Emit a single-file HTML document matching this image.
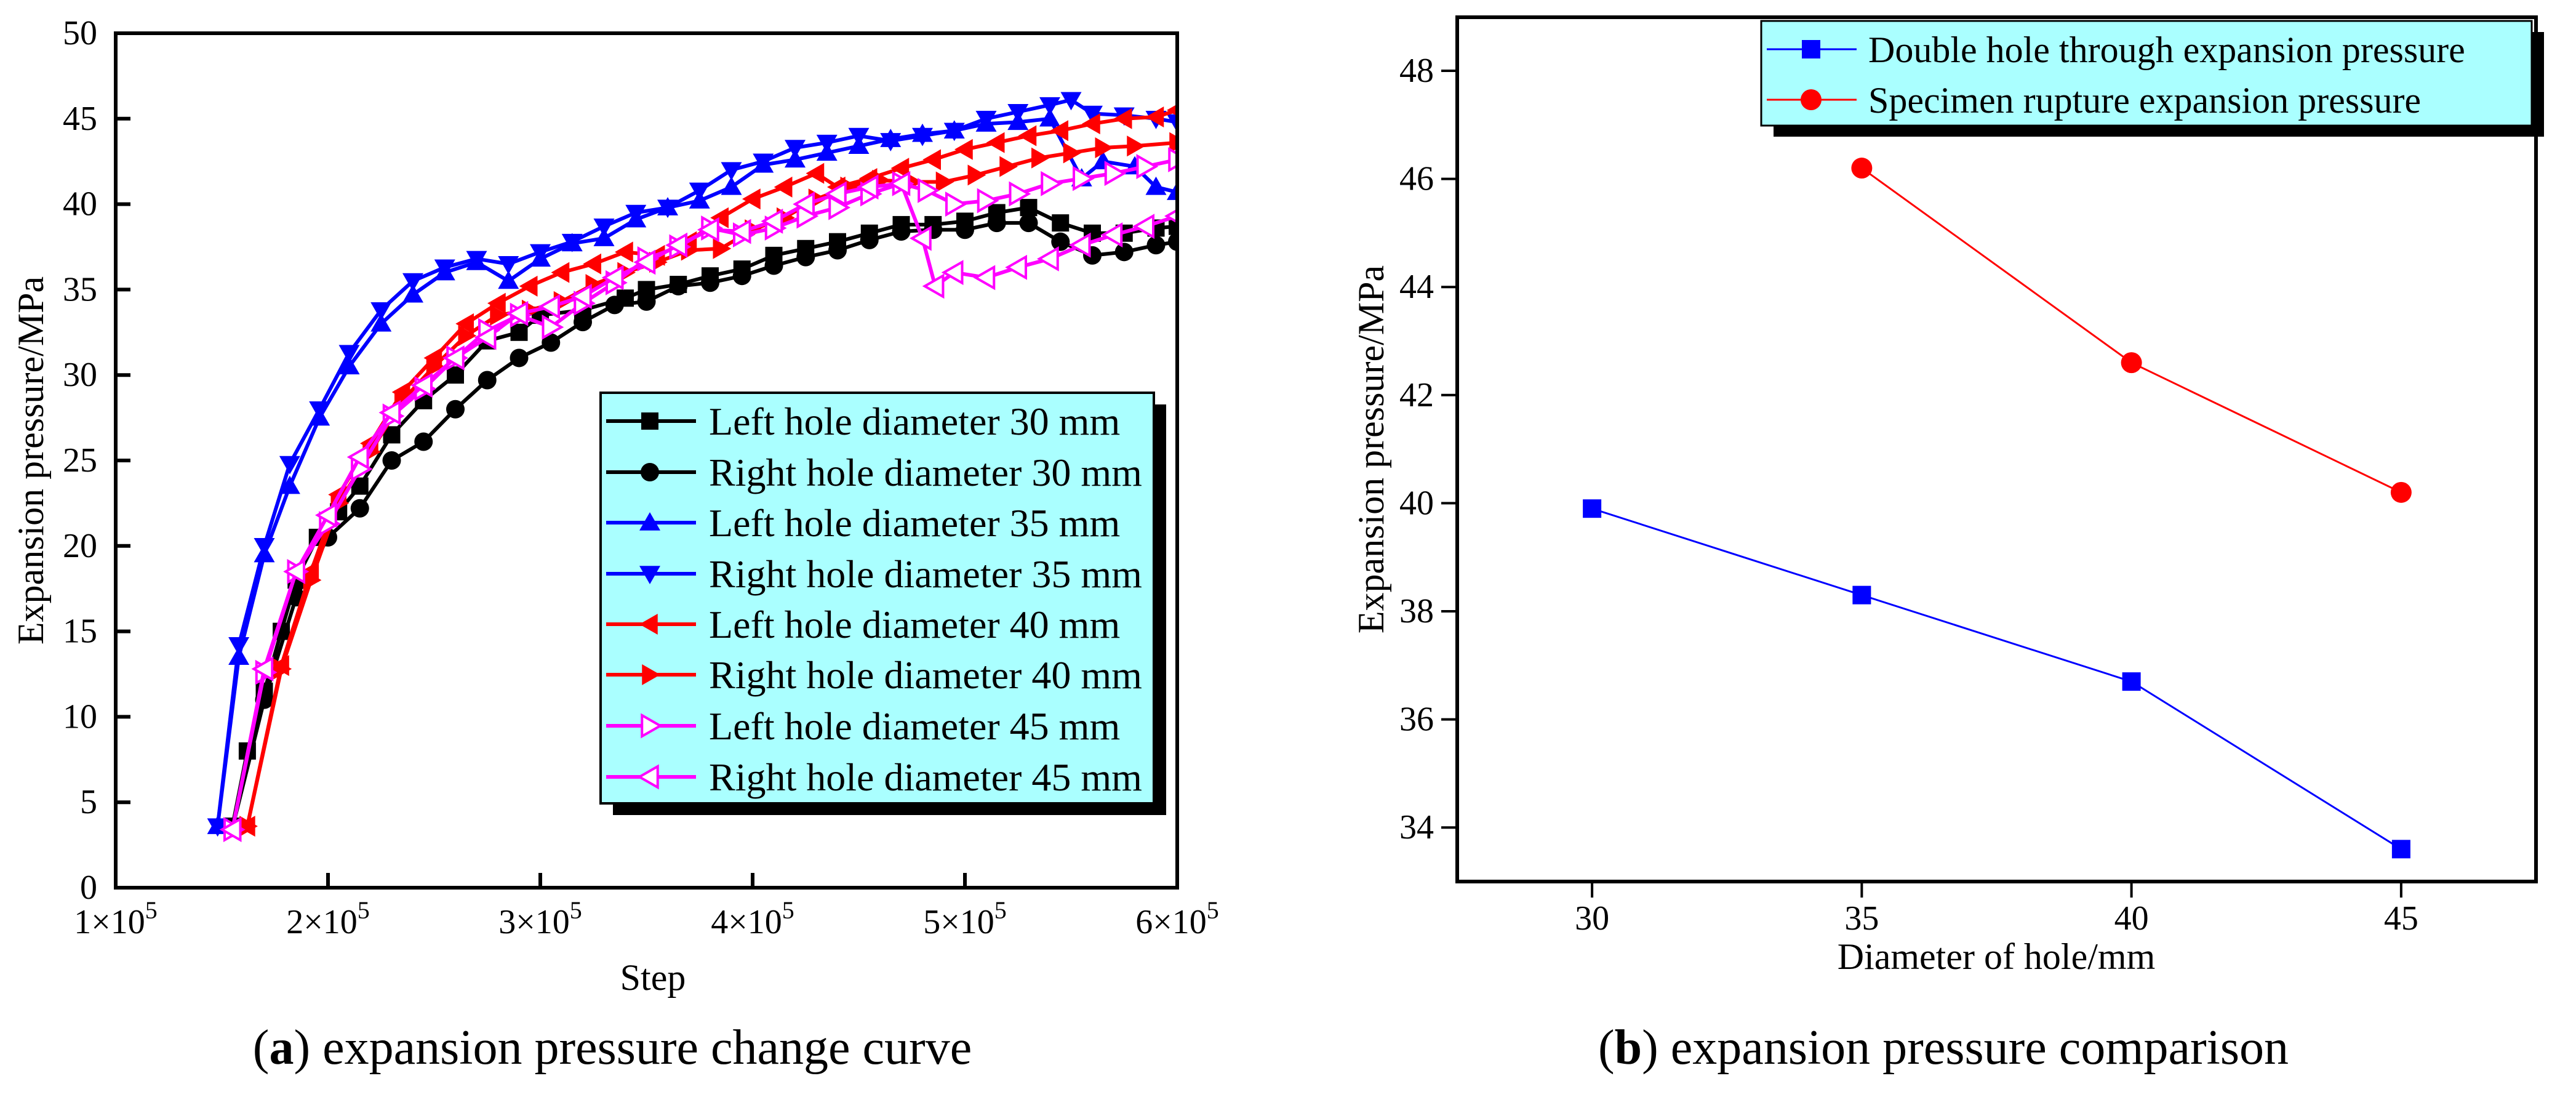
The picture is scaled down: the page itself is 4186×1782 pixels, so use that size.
<!DOCTYPE html>
<html><head><meta charset="utf-8"><style>
html,body{margin:0;padding:0;background:#fff}
svg{display:block;font-family:"Liberation Serif","Times New Roman",serif}
svg text,svg tspan{font-family:"Liberation Serif","Times New Roman",serif}
</style></head><body>
<svg id="s" width="4186" height="1782" viewBox="0 0 4186 1782" xmlns="http://www.w3.org/2000/svg" font-family="Liberation Serif, Times New Roman, serif">
<defs><clipPath id="clipA"><rect x="188" y="54" width="1725" height="1388"/></clipPath></defs>
</svg>
<script>
// ---- Chart A data (step in 1e5, pressure MPa) ----
const l30x=[1.55,1.62,1.7,1.78,1.85,1.95,2.05,2.15,2.3,2.45,2.6,2.75,2.9,3.0,3.2,3.4,3.5,3.65,3.8,3.95,4.1,4.25,4.4,4.55,4.7,4.85,5.0,5.15,5.3,5.45,5.6,5.75,5.9,6.0];
const l30y=[3.6,8,11.5,15,18,20.5,22,23.5,26.5,28.5,30,32,32.5,33.5,33.8,34.5,35,35.3,35.8,36.2,37,37.4,37.8,38.3,38.8,38.8,39,39.5,39.8,38.9,38.3,38.3,38.6,38.7];
const r30x=[1.55,1.7,1.85,2.0,2.15,2.3,2.45,2.6,2.75,2.9,3.05,3.2,3.35,3.5,3.65,3.8,3.95,4.1,4.25,4.4,4.55,4.7,4.85,5.0,5.15,5.3,5.45,5.6,5.75,5.9,6.0];
const r30y=[3.5,11,17,20.5,22.2,25,26.1,28,29.7,31,31.9,33.1,34.1,34.3,35.2,35.4,35.8,36.4,36.9,37.3,37.9,38.4,38.5,38.5,38.9,38.9,37.8,37.0,37.2,37.6,37.8];
const l35x=[1.48,1.58,1.7,1.82,1.96,2.1,2.25,2.4,2.55,2.7,2.85,3.0,3.15,3.3,3.45,3.6,3.75,3.9,4.05,4.2,4.35,4.5,4.65,4.8,4.95,5.1,5.25,5.4,5.55,5.65,5.8,5.9,6.0];
const l35y=[3.6,13.5,19.5,23.5,27.5,30.5,33,34.7,36,36.6,35.5,36.8,37.7,38.0,39.1,39.8,40.2,41,42.3,42.6,43.0,43.4,43.8,44.1,44.3,44.7,44.8,45,41.5,42.5,42.2,41,40.7];
const r35x=[1.48,1.58,1.7,1.82,1.96,2.1,2.25,2.4,2.55,2.7,2.85,3.0,3.15,3.3,3.45,3.6,3.75,3.9,4.05,4.2,4.35,4.5,4.65,4.8,4.95,5.1,5.25,5.4,5.5,5.6,5.75,5.9,6.0];
const r35y=[3.6,14.2,20,24.8,28,31.3,33.8,35.5,36.3,36.8,36.5,37.2,37.8,38.7,39.5,39.8,40.8,42,42.5,43.3,43.6,44,43.7,44,44.3,45.0,45.4,45.8,46.1,45.3,45.2,45,44.8];
const l40x=[1.62,1.78,1.92,2.05,2.2,2.35,2.5,2.65,2.8,2.95,3.1,3.25,3.4,3.55,3.7,3.85,4.0,4.15,4.3,4.4,4.55,4.7,4.85,5.0,5.15,5.3,5.45,5.6,5.75,5.9,6.0];
const l40y=[3.6,13,18.5,23,26,29,31,33,34.2,35.2,36,36.5,37.2,37.0,37.8,39.2,40.3,41,41.8,41,41.5,42.1,42.6,43.2,43.6,44,44.3,44.7,45.0,45.1,45.5];
const r40x=[1.62,1.78,1.92,2.05,2.2,2.35,2.5,2.65,2.8,2.95,3.1,3.25,3.4,3.55,3.7,3.85,4.0,4.15,4.3,4.45,4.6,4.75,4.9,5.05,5.2,5.35,5.5,5.65,5.8,6.0];
const r40y=[3.6,12.8,18,22.5,25.5,28.5,30.5,32.3,33.5,33.8,34.3,35.3,36,36.6,37.3,37.4,38.5,39.2,40.3,41.0,41.4,41.3,41.3,41.7,42.2,42.7,43,43.3,43.4,43.6];
const l45x=[1.55,1.7,1.85,2.0,2.15,2.3,2.45,2.6,2.75,2.9,3.05,3.2,3.35,3.5,3.65,3.8,3.95,4.1,4.25,4.4,4.55,4.7,4.82,4.95,5.1,5.25,5.4,5.55,5.7,5.85,6.0];
const l45y=[3.4,12.6,18.5,21.3,24.5,27.6,29.2,31,32.6,33.5,32.8,34.2,35.4,36.8,37.5,38.6,38.2,38.6,39.3,39.8,40.6,41.2,40.8,40.0,40.2,40.6,41.2,41.5,41.8,42.2,42.6];
const r45x=[1.55,1.7,1.85,2.0,2.15,2.3,2.45,2.6,2.75,2.9,3.05,3.2,3.35,3.5,3.65,3.8,3.95,4.1,4.25,4.4,4.55,4.7,4.8,4.86,4.95,5.1,5.25,5.4,5.55,5.7,5.85,6.0];
const r45y=[3.4,12.8,18.5,21.8,25.2,27.8,29.4,31,32.2,33.6,34,34.6,35.7,36.6,37.6,38.5,38.4,39,40,40.6,41,41.2,38,35.2,36,35.7,36.3,36.8,37.6,38.2,38.7,39.3];
const aYTicks=[0,5,10,15,20,25,30,35,40,45,50];
const aXTicks=[1,2,3,4,5,6];
const aLegend=["Left hole diameter 30 mm","Right hole diameter 30 mm","Left hole diameter 35 mm","Right hole diameter 35 mm","Left hole diameter 40 mm","Right hole diameter 40 mm","Left hole diameter 45 mm","Right hole diameter 45 mm"];
// ---- Chart B data ----
const bDiam=[30,35,40,45];
const bThrough=[39.9,38.3,36.7,33.6];
const bRuptDiam=[35,40,45];
const bRupture=[46.2,42.6,40.2];
const bYTicks=[34,36,38,40,42,44,46,48];
const bXTicks=[30,35,40,45];

const NS="http://www.w3.org/2000/svg";
const FONT="Liberation Serif, Times New Roman, serif";
const svg=document.getElementById('s');
function mk(tag,attrs,parent){const e=document.createElementNS(NS,tag);for(const k in attrs)e.setAttribute(k,attrs[k]);(parent||svg).appendChild(e);return e;}
function txt(s,attrs,parent){attrs['font-family']=FONT;const e=mk('text',attrs,parent);e.textContent=s;return e;}
function tsp(s,attrs,parent){attrs['font-family']=FONT;const e=mk('tspan',attrs,parent);e.textContent=s;return e;}

const ax=v=>188+(v-1)*345, ay=v=>1442-v*27.76;
const bx=v=>2368+(v-27.5)*87.65, by=v=>1432-(v-33)*87.8;

function marker(g,type,x,y,color,hollow){
  const fill=hollow?'#fff':color, sw=hollow?4:0, st=color;
  let e, r=17;
  if(type==='sq') e=mk('rect',{x:x-14,y:y-14,width:28,height:28,fill:fill,stroke:st,'stroke-width':sw},g);
  else if(type==='ci') e=mk('circle',{cx:x,cy:y,r:15,fill:fill,stroke:st,'stroke-width':sw},g);
  else{
    let p;
    if(type==='up') p=[[x,y-r],[x+r,y+r*0.75],[x-r,y+r*0.75]];
    else if(type==='dn') p=[[x,y+r],[x+r,y-r*0.75],[x-r,y-r*0.75]];
    else if(type==='lt') p=[[x-r,y],[x+r*0.75,y-r],[x+r*0.75,y+r]];
    else p=[[x+r,y],[x-r*0.75,y-r],[x-r*0.75,y+r]];
    e=mk('polygon',{points:p.map(q=>q.join(',')).join(' '),fill:fill,stroke:st,'stroke-width':sw},g);
  }
  return e;
}

// ===== Chart A =====
const gA=mk('g',{});


const seriesA=[[l30x,l30y,'#000','sq',false],[r30x,r30y,'#000','ci',false],[l35x,l35y,'#0000ff','up',false],[r35x,r35y,'#0000ff','dn',false],[l40x,l40y,'#ff0000','lt',false],[r40x,r40y,'#ff0000','rt',false],[l45x,l45y,'#ff00ff','rt',true],[r45x,r45y,'#ff00ff','lt',true]];
const names=['series-left-30','series-right-30','series-left-35','series-right-35','series-left-40','series-right-40','series-left-45','series-right-45'];
const gPlot=mk('g',{'clip-path':'url(#clipA)'},gA);


seriesA.forEach((s,i)=>{
  const g=mk('g',{},gPlot);
  
  
  const pts=s[0].map((v,j)=>ax(v)+','+ay(s[1][j])).join(' ');
  mk('polyline',{points:pts,fill:'none',stroke:s[2],'stroke-width':6,'stroke-linejoin':'round'},g);
  s[0].forEach((v,j)=>{const m=marker(g,s[3],ax(v),ay(s[1][j]),s[2],s[4]);
    
    });
});
const fA=mk('rect',{x:188,y:54,width:1725,height:1388,fill:'none',stroke:'#000','stroke-width':6},gA);


aYTicks.forEach(v=>{
  mk('line',{x1:188,x2:212,y1:ay(v),y2:ay(v),stroke:'#000','stroke-width':6},gA);
  const t=txt(String(v),{x:158,y:ay(v)+18,'font-size':56,'text-anchor':'end'},gA);
  
  
});
aXTicks.forEach(v=>{
  mk('line',{x1:ax(v),x2:ax(v),y1:1442,y2:1418,stroke:'#000','stroke-width':6},gA);
  const t=txt('',{x:ax(v),y:1516,'font-size':56,'text-anchor':'middle'},gA);
  
  
  tsp(v+'×10',{},t);
  tsp('5',{dy:-24,'font-size':40},t);
});
let t=txt('Expansion pressure/MPa',{x:0,y:0,'font-size':60,'text-anchor':'middle',transform:'translate(70,748) rotate(-90)'},gA);


t=txt('Step',{x:1061,y:1608,'font-size':60,'text-anchor':'middle'},gA);


const lgA=mk('g',{},gA);


mk('rect',{x:996,y:657,width:899,height:667,fill:'#000'},lgA);
mk('rect',{x:976,y:638,width:899,height:667,fill:'#aaffff',stroke:'#000','stroke-width':4},lgA);
const rows=[684,767,849,932,1014,1096,1179,1262];
seriesA.forEach((s,i)=>{
  const g=mk('g',{},lgA);
  
  
  mk('line',{x1:985,x2:1131,y1:rows[i],y2:rows[i],stroke:s[2],'stroke-width':6},g);
  marker(g,s[3],1056,rows[i],s[2],s[4]);
  txt(aLegend[i],{x:1152,y:rows[i]+22,'font-size':64},g);
});
t=txt('',{x:995,y:1728,'font-size':80,'text-anchor':'middle'},gA);


tsp('(',{},t);tsp('a',{'font-weight':'bold'},t);tsp(') expansion pressure change curve',{},t);

// ===== Chart B =====
const gB=mk('g',{});


const fB=mk('rect',{x:2368,y:28,width:1753,height:1404,fill:'none',stroke:'#000','stroke-width':6},gB);


bYTicks.forEach(v=>{
  mk('line',{x1:2342,x2:2368,y1:by(v),y2:by(v),stroke:'#000','stroke-width':4},gB);
  const tt=txt(String(v),{x:2330,y:by(v)+18,'font-size':56,'text-anchor':'end'},gB);
  
  
});
bXTicks.forEach(v=>{
  mk('line',{x1:bx(v),x2:bx(v),y1:1432,y2:1458,stroke:'#000','stroke-width':4},gB);
  const tt=txt(String(v),{x:bx(v),y:1510,'font-size':56,'text-anchor':'middle'},gB);
  
  
});
const gT=mk('g',{},gB);


mk('polyline',{points:bDiam.map((d,i)=>bx(d)+','+by(bThrough[i])).join(' '),fill:'none',stroke:'#0000ff','stroke-width':3},gT);
bDiam.forEach((d,i)=>{const m=mk('rect',{x:bx(d)-15,y:by(bThrough[i])-15,width:30,height:30,fill:'#0000ff'},gT);
  
  });
const gR=mk('g',{},gB);


mk('polyline',{points:bRuptDiam.map((d,i)=>bx(d)+','+by(bRupture[i])).join(' '),fill:'none',stroke:'#ff0000','stroke-width':3},gR);
bRuptDiam.forEach((d,i)=>{const m=mk('circle',{cx:bx(d),cy:by(bRupture[i]),r:17,fill:'#ff0000'},gR);
  
  });
t=txt('Expansion pressure/MPa',{x:0,y:0,'font-size':60,'text-anchor':'middle',transform:'translate(2248,730) rotate(-90)'},gB);


t=txt('Diameter of hole/mm',{x:3244,y:1574,'font-size':60,'text-anchor':'middle'},gB);


const lgB=mk('g',{},gB);


mk('rect',{x:2882,y:52,width:1252,height:170,fill:'#000'},lgB);
mk('rect',{x:2862,y:34,width:1252,height:170,fill:'#aaffff',stroke:'#000','stroke-width':3},lgB);
let e1=mk('g',{},lgB);


mk('line',{x1:2871,x2:3017,y1:80,y2:80,stroke:'#0000ff','stroke-width':3},e1);
mk('rect',{x:2928,y:65,width:30,height:30,fill:'#0000ff'},e1);
txt('Double hole through expansion pressure',{x:3036,y:101,'font-size':60},e1);
let e2=mk('g',{},lgB);


mk('line',{x1:2871,x2:3017,y1:162,y2:162,stroke:'#ff0000','stroke-width':3},e2);
mk('circle',{cx:2943,cy:162,r:17,fill:'#ff0000'},e2);
txt('Specimen rupture expansion pressure',{x:3036,y:183,'font-size':60},e2);
t=txt('',{x:3158,y:1728,'font-size':80,'text-anchor':'middle'},gB);


tsp('(',{},t);tsp('b',{'font-weight':'bold'},t);tsp(') expansion pressure comparison',{},t);
</script>
</body></html>
